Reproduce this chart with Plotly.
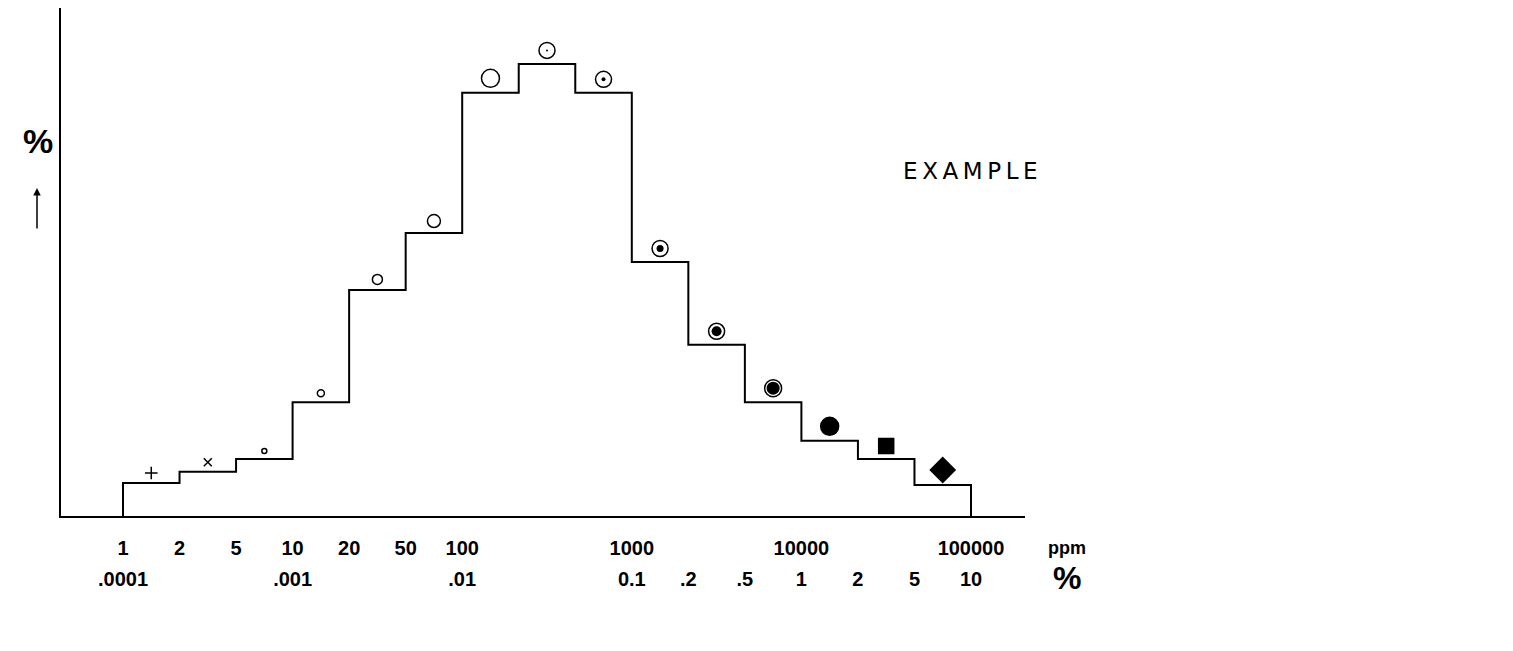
import plotly.graph_objects as go

# ---- data ----
# class boundaries (1-2-5 series, ppm), equally spaced classes
edge_labels_ppm = ["1", "2", "5", "10", "20", "50", "100", "200", "500",
                   "1000", "2000", "5000", "10000", "20000", "50000", "100000"]
ppm_tick_labels = ["1", "2", "5", "10", "20", "50", "100", "", "",
                   "1000", "", "", "10000", "", "", "100000"]
pct_tick_labels = [".0001", "", "", ".001", "", "", ".01", "", "",
                   "0.1", ".2", ".5", "1", "2", "5", "10"]
# frequency (%) of each class
freq = [6.5, 8.7, 11.2, 22.4, 44.5, 55.7, 83.3, 89.0, 83.3, 50.0, 33.7, 22.4, 14.8, 11.2, 6.1]
# symbol used for each class
class_symbols = ["cross-thin-open", "x-thin-open", "circle-open", "circle-open", "circle-open",
                 "circle-open", "circle-open", "circle-open", "circle-open", "circle-open",
                 "circle-open", "circle-open", "circle", "square", "diamond"]
class_sizes = [9, 8, 5, 7, 10, 13, 18, 16, 16, 16, 16, 17, 18, 15, 19]
inner_dot_sizes = [0, 0, 0, 0, 0, 0, 0, 2, 4, 7, 10, 13, 0, 0, 0]

# ---- geometry helpers ----
OFF = 8  # page body margin
W, H = 1513 - 2 * OFF, 651 - 2 * OFF
AX_L, AX_R, AX_T, AX_B = 61 - OFF, 1025 - OFF, 8 - OFF, 516 - OFF
ML, MR, MT, MB = AX_L, W - AX_R, AX_T, H - AX_B
plot_w = W - ML - MR
plot_h = H - MT - MB
YMAX = 100.0
u_per_px = YMAX / plot_h

edges = list(range(len(edge_labels_ppm)))
centers = [i + 0.5 for i in range(len(freq))]

step_x = [edges[0]] + edges
step_y = [0] + freq + [0]

marker_y = [v + (s / 2 + 5.5) * u_per_px for v, s in zip(freq, class_sizes)]

fig = go.Figure()
fig.add_trace(go.Scatter(x=step_x, y=step_y, mode="lines", line_shape="hv",
                         line=dict(color="black", width=2), hoverinfo="skip", showlegend=False))
fig.add_trace(go.Scatter(x=centers, y=marker_y, mode="markers", showlegend=False,
                         marker=dict(symbol=class_symbols, size=class_sizes, color="black", opacity=1,
                                     line=dict(color="black", width=1.5))))
dot_idx = [i for i, s in enumerate(inner_dot_sizes) if s > 0]
fig.add_trace(go.Scatter(x=[centers[i] for i in dot_idx], y=[marker_y[i] for i in dot_idx],
                         mode="markers", showlegend=False,
                         marker=dict(symbol="circle", size=[inner_dot_sizes[i] for i in dot_idx],
                                     color="black", opacity=1, line=dict(width=0))))
# invisible trace for the second (percent) tick row
fig.add_trace(go.Scatter(x=[edges[0]], y=[0], xaxis="x2", mode="markers",
                         marker=dict(opacity=0), hoverinfo="skip", showlegend=False))

px_per_class = (971 - 123) / 15
x_left = -(123 - 61) / px_per_class
x_right = 15 + (1025 - 971) / px_per_class
tick_font = dict(family="Liberation Sans, Arial, sans-serif", size=20, color="black", weight="bold")

fig.update_layout(
    width=W, height=H,
    margin=dict(l=ML, r=MR, t=MT, b=MB, pad=0),
    paper_bgcolor="white", plot_bgcolor="white",
    xaxis=dict(range=[x_left, x_right], showgrid=False, zeroline=False,
               showline=True, linecolor="black", linewidth=2, ticks="",
               tickvals=edges, ticktext=ppm_tick_labels, tickfont=tick_font,
               ticklabelstandoff=13),
    xaxis2=dict(range=[x_left, x_right], overlaying="x", side="bottom", anchor="y",
                showgrid=False, zeroline=False, showline=False, ticks="",
                tickvals=edges, ticktext=pct_tick_labels, tickfont=tick_font,
                ticklabelstandoff=49),
    yaxis=dict(range=[0, YMAX], showgrid=False, zeroline=False, showline=True,
               linecolor="black", linewidth=2, ticks="", showticklabels=False),
)

def px_x(px):
    return (px - OFF - ML) / plot_w

def px_y(py):
    return (AX_B - (py - OFF)) / plot_h

def label(text, x, y, size, family="Liberation Sans, Arial", weight="bold"):
    fig.add_annotation(text=text, xref="paper", yref="paper", x=px_x(x), y=px_y(y),
                       xanchor="center", yanchor="middle", showarrow=False,
                       font=dict(family=family, size=size, color="black", weight=weight))

label("%", 38, 141, 34)
fig.add_annotation(text="", xref="paper", yref="paper", x=px_x(37), y=px_y(188),
                   ax=0, ay=42, showarrow=True, arrowhead=2, arrowsize=1, arrowwidth=1.5, arrowcolor="black")
label("E\u2009X\u2009A\u2009M\u2009P\u2009L\u2009E", 970, 171, 23, family="DejaVu Sans", weight="normal")
label("ppm", 1067, 548, 18)
label("%", 1067, 578, 32)

fig.write_html("out.html")
